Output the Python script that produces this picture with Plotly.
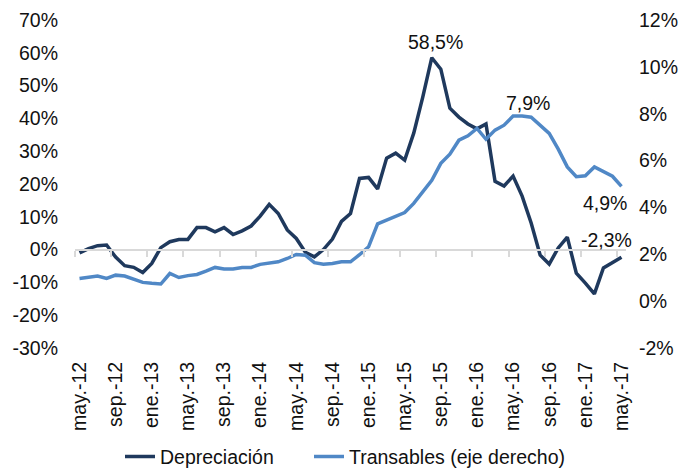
import plotly.graph_objects as go

month_abbr = ["ene.", "feb.", "mar.", "abr.", "may.", "jun.", "jul.", "ago.", "sep.", "oct.", "nov.", "dic."]
categories = [f"{month_abbr[(4 + k) % 12]}-{12 + (4 + k) // 12}" for k in range(61)]

depreciacion = [-1.0, 0.3, 1.2, 1.4, -2.3, -4.9, -5.4, -7.0, -4.2, 0.6,
                2.4, 3.1, 3.1, 6.7, 6.7, 5.4, 6.7, 4.6, 5.7, 7.2,
                10.2, 13.8, 11.0, 6.0, 3.4, -0.8, -2.2, 0.0, 3.2, 8.6,
                11.0, 21.7, 22.0, 18.5, 27.9, 29.4, 27.3, 35.5, 46.5, 58.5,
                55.0, 43.1, 40.4, 38.3, 36.8, 38.3, 20.8, 19.4, 22.4, 16.3,
                8.1, -1.7, -4.4, 0.5, 3.8, -7.2, -10.2, -13.5, -5.6, -4.1,
                -2.3]

transables = [0.97, 1.01, 1.07, 0.97, 1.11, 1.07, 0.94, 0.80, 0.76, 0.73,
              1.18, 1.01, 1.09, 1.14, 1.28, 1.44, 1.37, 1.37, 1.44, 1.44,
              1.57, 1.64, 1.68, 1.82, 1.99, 1.96, 1.64, 1.58, 1.61, 1.68,
              1.68, 1.98, 2.32, 3.30, 3.46, 3.64, 3.78, 4.17, 4.67, 5.16,
              5.88, 6.27, 6.87, 7.06, 7.37, 6.91, 7.30, 7.51, 7.90, 7.90,
              7.85, 7.48, 7.16, 6.49, 5.73, 5.31, 5.35, 5.73, 5.55, 5.33,
              4.90]

left_ticks = [-30, -20, -10, 0, 10, 20, 30, 40, 50, 60, 70]
left_text = ["-30%", "-20%", "-10%", "0%", "10%", "20%", "30%", "40%", "50%", "60%", "70%"]
right_ticks = [-2, 0, 2, 4, 6, 8, 10, 12]
right_text = ["-2%", "0%", "2%", "4%", "6%", "8%", "10%", "12%"]

x = list(range(len(categories)))
label_idx = list(range(0, len(categories), 4))
label_text = [categories[i] for i in label_idx]
boundary_ticks = [i - 0.5 for i in label_idx]

DARK = "#1F395D"
LIGHT = "#5088C6"
FONT = dict(family="Liberation Sans, Arial, sans-serif", size=19.5, color="#111111")

fig = go.Figure()
fig.add_trace(go.Scatter(x=x, y=depreciacion, name="Depreciación", mode="lines",
                         line=dict(color=DARK, width=3.5), yaxis="y", legend="legend"))
fig.add_trace(go.Scatter(x=x, y=transables, name="Transables (eje derecho)", mode="lines",
                         line=dict(color=LIGHT, width=3.5), yaxis="y2", legend="legend2"))

fig.update_layout(
    width=684, height=470,
    margin=dict(l=75, r=58, t=20, b=122, autoexpand=False),
    paper_bgcolor="white", plot_bgcolor="white",
    font=FONT,
    showlegend=True,
    legend=dict(orientation="h", x=(120 - 75) / 551, xanchor="left", y=-0.332, yanchor="middle",
                font=FONT, bgcolor="rgba(0,0,0,0)"),
    legend2=dict(orientation="h", x=(309 - 75) / 551, xanchor="left", y=-0.332, yanchor="middle",
                 font=FONT, bgcolor="rgba(0,0,0,0)"),
    xaxis=dict(range=[-0.5, 60.5], tickmode="array", tickvals=label_idx, ticktext=label_text,
               tickangle=-90, showgrid=False, zeroline=False, showline=False, ticks="",
               ticklabelstandoff=9, automargin=False),
    xaxis2=dict(range=[-0.5, 60.5], overlaying="x", anchor="free", position=0.3, side="bottom",
                tickmode="array", tickvals=boundary_ticks, showticklabels=False,
                ticks="outside", ticklen=6, tickwidth=1.5, tickcolor="#D9D9D9",
                showline=True, linecolor="#D9D9D9", linewidth=2, showgrid=False, zeroline=False,
                automargin=False),
    yaxis=dict(range=[-30, 70], tickmode="array", tickvals=left_ticks, ticktext=left_text,
               showgrid=False, zeroline=False, showline=False, ticks="", ticklabelstandoff=16,
               automargin=False),
    yaxis2=dict(range=[-2, 12], overlaying="y", side="right", tickmode="array",
                tickvals=right_ticks, ticktext=right_text, showgrid=False, zeroline=False,
                showline=False, ticks="", ticklabelstandoff=12, automargin=False),
)

# invisible trace to activate xaxis2
fig.add_trace(go.Scatter(x=[x[0]], y=[0], xaxis="x2", yaxis="y", mode="markers",
                         marker=dict(opacity=0), showlegend=False, hoverinfo="skip"))

i_peak = depreciacion.index(max(depreciacion))
i_tpeak = 49
last = len(categories) - 1
fig.add_annotation(x=i_peak, y=depreciacion[i_peak], xref="x", yref="y", text="58,5%",
                   showarrow=False, xshift=4, yshift=16, font=FONT)
fig.add_annotation(x=i_tpeak, y=transables[i_tpeak], xref="x", yref="y2", text="7,9%",
                   showarrow=False, xshift=6, yshift=13, font=FONT)
fig.add_annotation(x=last, y=transables[last], xref="x", yref="y2", text="4,9%",
                   showarrow=False, xshift=-16, yshift=-17, font=FONT)
fig.add_annotation(x=last, y=depreciacion[last], xref="x", yref="y", text="-2,3%",
                   showarrow=False, xshift=-15, yshift=17, font=FONT)

fig.write_html("out.html", config={"displayModeBar": False},
               post_script="document.body.style.margin='0';document.body.style.padding='0';")
